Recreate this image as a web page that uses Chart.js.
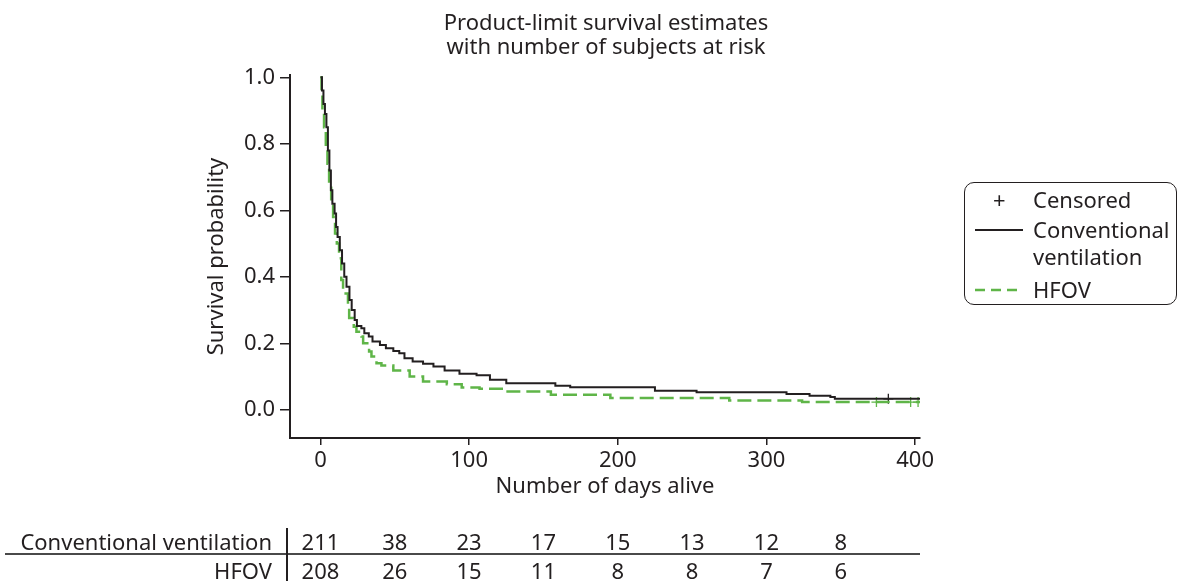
<!DOCTYPE html>
<html>
<head>
<meta charset="utf-8">
<script src="https://cdn.jsdelivr.net/npm/chart.js@4.4.1/dist/chart.umd.min.js"></script>
<style>
  html, body { margin: 0; padding: 0; background: #fff; }
  body { width: 1180px; height: 581px; position: relative; overflow: hidden;
         font-family: "Noto Sans", sans-serif; color: #231f20; }
  #wrap { position: absolute; left: 0; top: 0; width: 1180px; height: 581px; }
  #title { position: absolute; left: 290px; width: 632px; top: 9px; text-align: center;
           font-size: 22px; line-height: 24px; }
  #legend { position: absolute; left: 964px; top: 182px; width: 213px; height: 123px;
            border: 1.5px solid #231f20; border-radius: 10px; box-sizing: border-box; }
  .lg { position: absolute; font-size: 22px; line-height: 26px; white-space: nowrap; }
  .risk { position: absolute; font-size: 22px; line-height: 26px; white-space: nowrap; }
  .num { width: 60px; text-align: center; }
</style>
</head>
<body>
<div id="wrap"><canvas id="km" width="1180" height="581"></canvas></div>
<div id="title">Product-limit survival estimates<br>with number of subjects at risk</div>

<div id="legend">
  <div class="lg" style="left:28px;top:3px;">+</div>
  <div class="lg" style="left:68px;top:3px;">Censored</div>
  <svg style="position:absolute;left:10px;top:45px" width="50" height="4">
    <line x1="0" y1="2" x2="48" y2="2" stroke="#231f20" stroke-width="2"/>
  </svg>
  <div class="lg" style="left:68px;top:33px;">Conventional</div>
  <div class="lg" style="left:68px;top:60px;">ventilation</div>
  <svg style="position:absolute;left:10px;top:105px" width="50" height="4">
    <line x1="0" y1="2" x2="48" y2="2" stroke="#5fb548" stroke-width="2.5" stroke-dasharray="10,6"/>
  </svg>
  <div class="lg" style="left:68px;top:93px;">HFOV</div>
</div>

<div id="table"></div>

<script>
// Kaplan-Meier steps (days, survival)
const convDays = [0, 1, 2, 3, 4, 5, 6, 7, 8, 9.5, 10.5, 11.5, 13, 14.5, 16, 17.5, 19.5, 21, 23, 24.5,
  27.5, 29.5, 32.5, 35, 40, 44, 49, 53, 56.5, 62, 69, 76, 83.5, 93.5, 105, 114, 125, 158, 168,
  225, 253, 313.5, 329, 343, 346, 403.3];
const convSurv = [1.0, 0.96, 0.92, 0.89, 0.85, 0.78, 0.72, 0.66, 0.62, 0.59, 0.55, 0.52, 0.48, 0.44,
  0.40, 0.37, 0.33, 0.30, 0.27, 0.252, 0.245, 0.23, 0.22, 0.205, 0.195, 0.185, 0.177, 0.17, 0.155,
  0.145, 0.138, 0.13, 0.118, 0.108, 0.104, 0.09, 0.08, 0.072, 0.068, 0.057, 0.053, 0.047, 0.042,
  0.038, 0.033, 0.033];

const hfovDays = [0, 0.7, 1.3, 2.4, 3.6, 4.7, 5.8, 7.2, 8.5, 9.8, 11, 12.5, 14, 15.2, 18.5, 19.3,
  22.4, 24.2, 27.6, 28.7, 32.7, 34.3, 37.7, 41, 49, 60, 69, 85, 95, 107, 125, 155, 195, 275, 324, 403.3];
const hfovSurv = [1.0, 0.95, 0.90, 0.85, 0.79, 0.74, 0.68, 0.62, 0.58, 0.53, 0.50, 0.456, 0.39, 0.35,
  0.31, 0.276, 0.25, 0.235, 0.22, 0.20, 0.175, 0.16, 0.14, 0.133, 0.118, 0.10, 0.085, 0.077, 0.067,
  0.063, 0.055, 0.045, 0.035, 0.028, 0.023, 0.023];

// censored observations
const convCensDays = [382];
const convCensSurv = [0.033];
const hfovCensDays = [374, 397, 402];
const hfovCensSurv = [0.023, 0.023, 0.023];

// axis ticks
const xTickValues = [0, 100, 200, 300, 400];
const yTickValues = [0, 0.2, 0.4, 0.6, 0.8, 1.0];

// number at risk table
const riskDays = [0, 50, 100, 150, 200, 250, 300, 350];
const riskConv = [211, 38, 23, 17, 15, 13, 12, 8];
const riskHfov = [208, 26, 15, 11, 8, 8, 7, 6];

const ink = '#231f20';
const green = '#5fb548';
const pts = (xs, ys) => xs.map((x, i) => ({ x: x, y: ys[i] }));

const chart = new Chart(document.getElementById('km'), {
  type: 'line',
  data: {
    datasets: [
      {
        label: 'Conventional ventilation',
        data: pts(convDays, convSurv),
        borderColor: ink,
        borderWidth: 2,
        stepped: true,
        pointRadius: 0,
        fill: false
      },
      {
        label: 'HFOV',
        data: pts(hfovDays, hfovSurv),
        borderColor: green,
        borderWidth: 2.5,
        borderDash: [14, 6],
        stepped: true,
        pointRadius: 0,
        fill: false
      },
      {
        label: 'Censored conv',
        data: pts(convCensDays, convCensSurv),
        showLine: false,
        pointStyle: 'cross',
        pointRadius: 5,
        borderColor: ink,
        borderWidth: 1.3
      },
      {
        label: 'Censored hfov',
        data: pts(hfovCensDays, hfovCensSurv),
        showLine: false,
        pointStyle: 'cross',
        pointRadius: 5,
        borderColor: green,
        borderWidth: 1.3
      }
    ]
  },
  options: {
    responsive: false,
    animation: false,
    events: [],
    layout: { padding: { left: 0, right: 260, top: 75, bottom: 81 } },
    plugins: { legend: { display: false }, tooltip: { enabled: false }, title: { display: false } },
    scales: {
      x: {
        type: 'linear',
        min: -20.5,
        max: 403.3,
        afterFit: function (scale) { scale.height = 62; },
        afterBuildTicks: function (scale) { scale.ticks = xTickValues.map(v => ({ value: v })); },
        border: { display: true, color: ink, width: 2 },
        grid: { display: true, drawOnChartArea: false, drawTicks: true, tickLength: 7, color: ink, lineWidth: 1.5 },
        ticks: { color: ink, font: { family: 'Noto Sans', size: 22 }, padding: 3, maxRotation: 0 },
        title: { display: true, text: 'Number of days alive', color: ink,
                 font: { family: 'Noto Sans', size: 22 }, padding: { top: 0, bottom: 0 } }
      },
      y: {
        type: 'linear',
        min: -0.085,
        max: 1.007,
        afterFit: function (scale) { scale.width = 290; },
        afterBuildTicks: function (scale) { scale.ticks = yTickValues.map(v => ({ value: v })); },
        border: { display: true, color: ink, width: 2 },
        grid: { display: true, drawOnChartArea: false, drawTicks: true, tickLength: 10, color: ink, lineWidth: 1.5 },
        ticks: { color: ink, font: { family: 'Noto Sans', size: 22 }, padding: 5,
                 callback: v => Number(v).toFixed(1) },
        title: { display: true, text: 'Survival probability', color: ink,
                 font: { family: 'Noto Sans', size: 22 }, padding: { top: 204, bottom: 0 } }
      }
    }
  }
});

// number-at-risk table, columns placed with the x scale
const tbl = document.getElementById('table');
const xs = chart.scales.x;
function addDiv(cls, text, left, top, extra) {
  const d = document.createElement('div');
  d.className = cls;
  d.textContent = text;
  d.style.left = left + 'px';
  d.style.top = top + 'px';
  if (extra) Object.assign(d.style, extra);
  tbl.appendChild(d);
  return d;
}
addDiv('risk', 'Conventional ventilation', 0, 528, { width: '272px', textAlign: 'right' });
addDiv('risk', 'HFOV', 0, 557, { width: '272px', textAlign: 'right' });
riskDays.forEach((t, i) => {
  const px = xs.getPixelForValue(t);
  addDiv('risk num', String(riskConv[i]), px - 30, 528);
  addDiv('risk num', String(riskHfov[i]), px - 30, 557);
});
// rules of the table
addDiv('', '', 5, 553, { position: 'absolute', width: '915px', height: '2px', background: '#4a4a4a' });
addDiv('', '', 286, 528, { position: 'absolute', width: '1.5px', height: '53px', background: ink });
</script>
</body>
</html>
